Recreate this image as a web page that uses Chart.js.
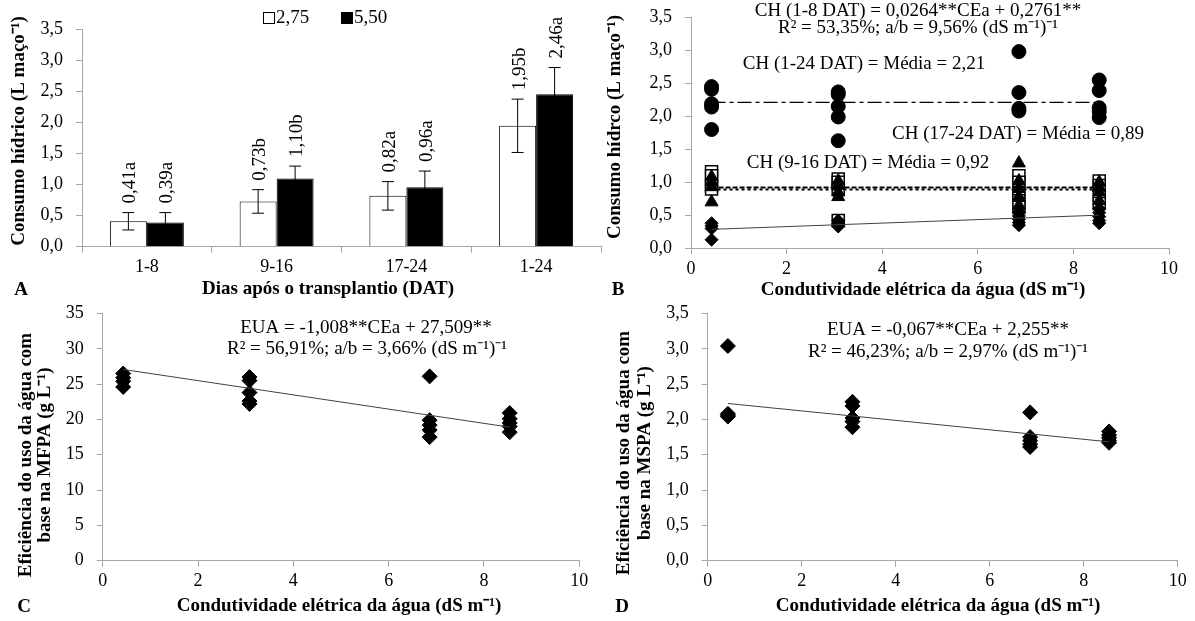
<!DOCTYPE html>
<html>
<head>
<meta charset="utf-8">
<script src="https://cdn.jsdelivr.net/npm/chart.js@4/dist/chart.umd.min.js"></script>
<style>
  body { margin: 0; background: #fff; }
  #wrap { position: relative; width: 1195px; height: 621px; overflow: hidden; }
  canvas { position: absolute; }
</style>
</head>
<body>
<div id="wrap">
  <canvas id="chartA" width="610" height="305" style="left:0;top:0"></canvas>
  <canvas id="chartB" width="595" height="305" style="left:600px;top:0"></canvas>
  <canvas id="chartC" width="600" height="316" style="left:0;top:305px"></canvas>
  <canvas id="chartD" width="595" height="316" style="left:600px;top:305px"></canvas>
</div>
<script>
// ---- data: panel A (bars) ----
var periods = ["1-8", "9-16", "17-24", "1-24"];
var ch275 = [0.41, 0.73, 0.82, 1.95];
var ch550 = [0.39, 1.10, 0.96, 2.46];
var err275 = [0.14, 0.19, 0.23, 0.43];
var err550 = [0.16, 0.20, 0.26, 0.43];
var letters275 = ["0,41a", "0,73b", "0,82a", "1,95b"];
var letters550 = ["0,39a", "1,10b", "0,96a", "2,46a"];

// ---- data: panels B, C, D (scatter) ----
var ceaLevels = [0.43, 3.08, 6.86, 8.54];
var ch1a8 = [[0.38, 0.34, 0.30, 0.13], [0.42, 0.38, 0.35, 0.33], [0.55, 0.49, 0.44, 0.39, 0.35], [0.60, 0.54, 0.48, 0.42, 0.38]];
var ch9a16 = [[1.16, 1.10, 0.95, 0.90], [1.05, 1.00, 0.90, 0.42], [1.10, 1.00, 0.85, 0.72, 0.62], [1.02, 0.95, 0.80, 0.68]];
var ch17a24 = [[1.08, 1.00, 0.93, 0.70], [1.02, 0.95, 0.85, 0.78], [1.29, 1.02, 0.90, 0.78, 0.65], [1.00, 0.92, 0.85, 0.72]];
var ch1a24 = [[2.45, 2.41, 2.19, 2.14, 1.80], [2.37, 2.33, 2.15, 1.99, 1.63], [2.98, 2.36, 2.12, 2.08], [2.55, 2.39, 2.13, 2.07, 1.98]];
var euaMfpa = [[26.5, 25.9, 25.4, 24.6], [26.0, 25.5, 23.8, 22.6, 22.2], [26.1, 19.9, 19.2, 18.5, 17.5], [20.9, 20.1, 19.5, 19.0, 18.2]];
var euaMspa = [[3.04, 2.08, 2.06, 2.04], [2.25, 2.19, 2.02, 1.97, 1.89], [2.10, 1.75, 1.70, 1.65, 1.61], [1.83, 1.78, 1.74, 1.70, 1.67]];
var lineX = [0.43, 8.54];
var trendB = [0.287, 0.502];
var trendC = [27.08, 18.90];
var trendD = [2.226, 1.683];
var mean1a24 = [2.21, 2.21];
var mean9a16 = [0.92, 0.92];
var mean17a24 = [0.89, 0.89];

var SERIF = "'Liberation Serif', 'Times New Roman', serif";
Chart.defaults.font.family = SERIF;
Chart.defaults.font.size = 18;
Chart.defaults.color = "#000";
var AXIS = "#a6a6a6";

function toPoints(groups) {
  var pts = [];
  groups.forEach(function (vals, i) {
    vals.forEach(function (v) { pts.push({ x: ceaLevels[i], y: v }); });
  });
  return pts;
}
function toLine(ys) {
  return ys.map(function (y, i) { return { x: lineX[i], y: y }; });
}
function comma(d) {
  return function (v) { return v.toFixed(d).replace(".", ","); };
}
// fixes the size of a scale so the plot area lands where it should
function pin(size) {
  return function (s) {
    if (s.isHorizontal()) s.height = size; else s.width = size;
    s.paddingTop = 0; s.paddingBottom = 0; s.paddingLeft = 0; s.paddingRight = 0;
  };
}

var textPlugin = {
  id: "texts",
  afterDraw: function (chart, args, opts) {
    var ctx = chart.ctx;
    (opts.items || []).forEach(function (t) {
      ctx.save();
      ctx.font = t.font || ("19px " + SERIF);
      ctx.fillStyle = "#000";
      ctx.textAlign = t.align || "center";
      ctx.textBaseline = "middle";
      ctx.translate(t.x, t.y);
      if (t.rot) ctx.rotate(-Math.PI / 2);
      ctx.fillText(t.text, 0, 0);
      ctx.restore();
    });
  }
};

var errorPlugin = {
  id: "errbars",
  afterDatasetsDraw: function (chart, args, opts) {
    var ctx = chart.ctx;
    var y = chart.scales.y;
    chart.data.datasets.forEach(function (ds, i) {
      var meta = chart.getDatasetMeta(i);
      meta.data.forEach(function (bar, j) {
        var top = y.getPixelForValue(ds.data[j] + ds.errors[j]);
        var bot = y.getPixelForValue(ds.data[j] - ds.errors[j]);
        ctx.save();
        ctx.strokeStyle = "#000";
        ctx.lineWidth = 1;
        ctx.beginPath();
        ctx.moveTo(bar.x, top); ctx.lineTo(bar.x, bot);
        ctx.moveTo(bar.x - 6, top); ctx.lineTo(bar.x + 6, top);
        ctx.moveTo(bar.x - 6, bot); ctx.lineTo(bar.x + 6, bot);
        ctx.stroke();
        ctx.font = "19px " + SERIF;
        ctx.fillStyle = "#000";
        ctx.textAlign = "left";
        ctx.textBaseline = "middle";
        ctx.translate(bar.x + 2, top - 9);
        ctx.rotate(-Math.PI / 2);
        ctx.fillText(ds.tags[j], 0, 0);
        ctx.restore();
      });
    });
    // legend
    var lx = [263, 341];
    chart.data.datasets.forEach(function (ds, i) {
      ctx.save();
      ctx.fillStyle = ds.backgroundColor;
      ctx.strokeStyle = "#000";
      ctx.lineWidth = 1;
      ctx.fillRect(lx[i] + 0.5, 12.5, 11, 11);
      ctx.strokeRect(lx[i] + 0.5, 12.5, 11, 11);
      ctx.font = "19px " + SERIF;
      ctx.fillStyle = "#000";
      ctx.textBaseline = "middle";
      ctx.fillText(ds.label, lx[i] + 13, 18);
      ctx.restore();
    });
  }
};

function scatterScales(xH, yW, yMax, yStep, yDec) {
  return {
    x: {
      type: "linear", min: 0, max: 10,
      ticks: { stepSize: 2, padding: 4 },
      grid: { drawOnChartArea: false, color: AXIS, tickLength: 6 },
      border: { color: AXIS },
      afterFit: pin(xH)
    },
    y: {
      min: 0, max: yMax,
      ticks: { stepSize: yStep, padding: 13, callback: comma(yDec) },
      grid: { drawOnChartArea: false, color: AXIS, tickLength: 6 },
      border: { color: AXIS },
      afterFit: pin(yW)
    }
  };
}
var base = { responsive: false, animation: false, events: [] };
var BOLD = "bold 19px " + SERIF;
var REG = "19px " + SERIF;
var XTITLE = "Condutividade elétrica da água (dS m⁻¹)";

// ---- A ----
new Chart(document.getElementById("chartA"), {
  type: "bar",
  data: {
    labels: periods,
    datasets: [
      { label: "2,75", data: ch275, errors: err275, tags: letters275, backgroundColor: "#fff", borderColor: "#000", borderWidth: 1 },
      { label: "5,50", data: ch550, errors: err550, tags: letters550, backgroundColor: "#000", borderColor: "#000", borderWidth: 1 }
    ]
  },
  plugins: [errorPlugin, textPlugin],
  options: Object.assign({}, base, {
    layout: { padding: { top: 29.7, right: 9, left: 0, bottom: 0 } },
    datasets: { bar: { categoryPercentage: 0.57, barPercentage: 1 } },
    scales: {
      x: {
        ticks: { padding: 4 },
        grid: { drawOnChartArea: false, color: AXIS, tickLength: 6 },
        border: { color: AXIS },
        afterFit: pin(58.3)
      },
      y: {
        min: 0, max: 3.5,
        ticks: { stepSize: 0.5, padding: 13, callback: comma(1) },
        grid: { drawOnChartArea: false, color: AXIS, tickLength: 6 },
        border: { color: AXIS },
        afterFit: pin(82)
      }
    },
    plugins: {
      legend: { display: false }, tooltip: { enabled: false },
      texts: { items: [
        { text: "Consumo hídrico (L maço⁻¹)", x: 19, y: 131, rot: true, font: BOLD },
        { text: "Dias após o transplantio (DAT)", x: 328, y: 289, font: BOLD },
        { text: "A", x: 21, y: 290, font: BOLD }
      ] }
    }
  })
});

// ---- B ----  (first dataset is drawn on top)
new Chart(document.getElementById("chartB"), {
  type: "scatter",
  data: {
    datasets: [
      { data: toLine(mean1a24), showLine: true, pointRadius: 0, borderColor: "#000", borderWidth: 1.3, borderDash: [14, 4, 4, 4] },
      { data: toLine(mean9a16), showLine: true, pointRadius: 0, borderColor: "#000", borderWidth: 2, borderDash: [5, 2] },
      { data: toLine(mean17a24), showLine: true, pointRadius: 0, borderColor: "#000", borderWidth: 2, borderDash: [3, 3] },
      { data: toLine(trendB), showLine: true, pointRadius: 0, borderColor: "#404040", borderWidth: 1 },
      { data: toPoints(ch1a24), pointStyle: "circle", pointRadius: 7, backgroundColor: "#000", borderColor: "#000" },
      { data: toPoints(ch1a8), pointStyle: "rectRot", pointRadius: 6.5, backgroundColor: "#000", borderColor: "#000" },
      { data: toPoints(ch17a24), pointStyle: "triangle", pointRadius: 7.5, backgroundColor: "#000", borderColor: "#000" },
      { data: toPoints(ch9a16), pointStyle: "rect", pointRadius: 8.5, backgroundColor: "#fff", borderColor: "#000", borderWidth: 1.5 }
    ]
  },
  plugins: [textPlugin],
  options: Object.assign({}, base, {
    layout: { padding: { top: 17.3, right: 26, left: 0, bottom: 0 } },
    scales: scatterScales(56.7, 91, 3.5, 0.5, 1),
    plugins: {
      legend: { display: false }, tooltip: { enabled: false },
      texts: { items: [
        { text: "Consumo hídrco (L maço⁻¹)", x: 15, y: 127, rot: true, font: BOLD },
        { text: XTITLE, x: 323, y: 290, font: BOLD },
        { text: "B", x: 18, y: 290, font: BOLD },
        { text: "CH (1-8 DAT) = 0,0264**CEa + 0,2761**", x: 318, y: 11, font: REG },
        { text: "R² = 53,35%; a/b = 9,56% (dS m⁻¹)⁻¹", x: 318, y: 28, font: REG },
        { text: "CH (1-24 DAT) = Média = 2,21", x: 264, y: 64, font: REG },
        { text: "CH (17-24 DAT) = Média = 0,89", x: 418, y: 134, font: REG },
        { text: "CH (9-16 DAT) = Média = 0,92", x: 268, y: 163, font: REG }
      ] }
    }
  })
});

// ---- C ----
new Chart(document.getElementById("chartC"), {
  type: "scatter",
  data: {
    datasets: [
      { data: toLine(trendC), showLine: true, pointRadius: 0, borderColor: "#404040", borderWidth: 1 },
      { data: toPoints(euaMfpa), pointStyle: "rectRot", pointRadius: 7.5, backgroundColor: "#000", borderColor: "#000" }
    ]
  },
  plugins: [textPlugin],
  options: Object.assign({}, base, {
    layout: { padding: { top: 5.8, right: 20.7, left: 0, bottom: 0 } },
    scales: scatterScales(60.3, 102.7, 35, 5, 0),
    plugins: {
      legend: { display: false }, tooltip: { enabled: false },
      texts: { items: [
        { text: "Eficiência do uso da água com", x: 26, y: 150, rot: true, font: BOLD },
        { text: "base na MFPA (g L⁻¹)", x: 45, y: 150, rot: true, font: BOLD },
        { text: XTITLE, x: 339, y: 301, font: BOLD },
        { text: "C", x: 24, y: 302, font: BOLD },
        { text: "EUA = -1,008**CEa + 27,509**", x: 366, y: 23, font: REG },
        { text: "R² = 56,91%; a/b = 3,66% (dS m⁻¹)⁻¹", x: 367, y: 44, font: REG }
      ] }
    }
  })
});

// ---- D ----
new Chart(document.getElementById("chartD"), {
  type: "scatter",
  data: {
    datasets: [
      { data: toLine(trendD), showLine: true, pointRadius: 0, borderColor: "#404040", borderWidth: 1 },
      { data: toPoints(euaMspa), pointStyle: "rectRot", pointRadius: 7.5, backgroundColor: "#000", borderColor: "#000" }
    ]
  },
  plugins: [textPlugin],
  options: Object.assign({}, base, {
    layout: { padding: { top: 5.9, right: 17.3, left: 0, bottom: 0 } },
    scales: scatterScales(60.3, 107.7, 3.5, 0.5, 1),
    plugins: {
      legend: { display: false }, tooltip: { enabled: false },
      texts: { items: [
        { text: "Eficiência do uso da água com", x: 24, y: 148, rot: true, font: BOLD },
        { text: "base na MSPA (g L⁻¹)", x: 45, y: 148, rot: true, font: BOLD },
        { text: XTITLE, x: 338, y: 301, font: BOLD },
        { text: "D", x: 22, y: 302, font: BOLD },
        { text: "EUA = -0,067**CEa + 2,255**", x: 348, y: 25, font: REG },
        { text: "R² = 46,23%; a/b = 2,97% (dS m⁻¹)⁻¹", x: 348, y: 47, font: REG }
      ] }
    }
  })
});
</script>
</body>
</html>
